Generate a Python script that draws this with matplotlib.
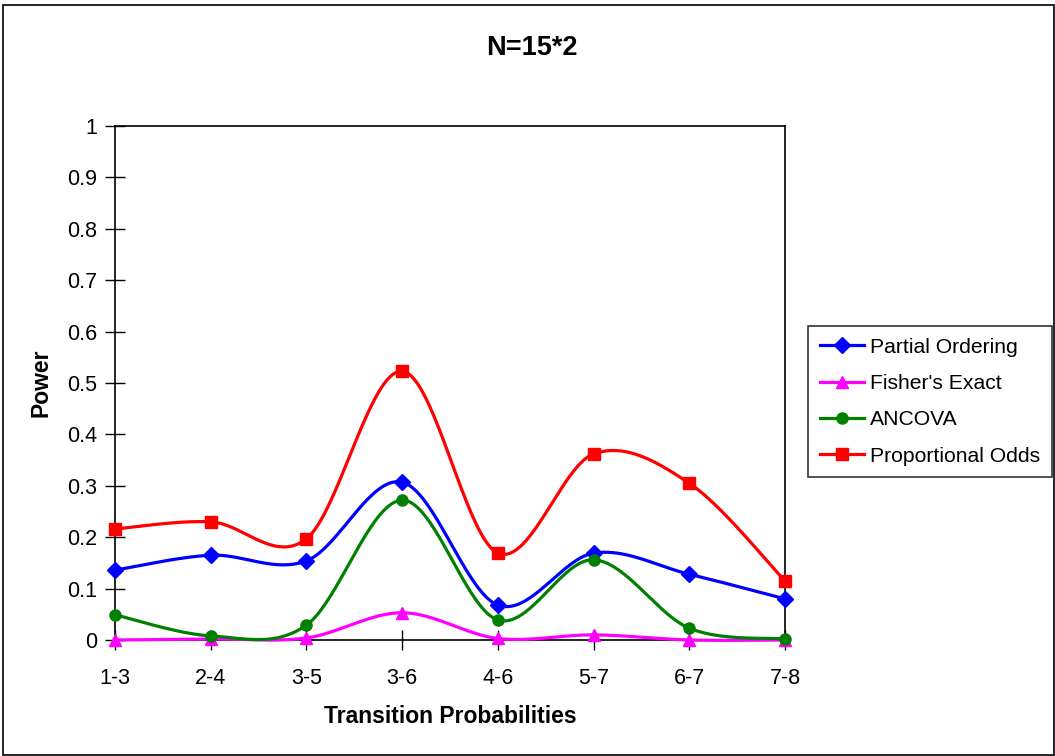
import numpy as np
import matplotlib
matplotlib.use("Agg")
import matplotlib.pyplot as plt
from matplotlib.patches import Rectangle

plt.rcParams['font.family'] = ['Liberation Sans', 'DejaVu Sans']

categories = ["1-3", "2-4", "3-5", "3-6", "4-6", "5-7", "6-7", "7-8"]
partial_ordering = [0.136, 0.165, 0.154, 0.307, 0.068, 0.169, 0.128, 0.080]
fishers_exact = [0.000, 0.002, 0.004, 0.053, 0.003, 0.010, 0.000, 0.000]
ancova = [0.049, 0.008, 0.029, 0.272, 0.039, 0.156, 0.023, 0.002]
proportional_odds = [0.216, 0.230, 0.197, 0.523, 0.169, 0.362, 0.305, 0.115]
y_ticks = [0, 0.1, 0.2, 0.3, 0.4, 0.5, 0.6, 0.7, 0.8, 0.9, 1]


def smooth(xs, ys, n=40):
    """Catmull-Rom style Bezier smoothing through every point."""
    xs = np.asarray(xs, float)
    ys = np.asarray(ys, float)
    pts = np.column_stack([xs, ys])
    out = []
    m = len(pts)
    t = np.linspace(0, 1, n)[:, None]
    for i in range(m - 1):
        p0 = pts[i - 1] if i > 0 else pts[i]
        p1 = pts[i]
        p2 = pts[i + 1]
        p3 = pts[i + 2] if i + 2 < m else pts[i + 1]
        c1 = p1 + (p2 - p0) / 6.0
        c2 = p2 - (p3 - p1) / 6.0
        seg = ((1 - t) ** 3) * p1 + 3 * ((1 - t) ** 2) * t * c1 \
            + 3 * (1 - t) * t ** 2 * c2 + t ** 3 * p2
        out.append(seg if i == 0 else seg[1:])
    out = np.vstack(out)
    return out[:, 0], out[:, 1]


fig = plt.figure(figsize=(10.55, 7.56), dpi=100)
fig.patches.append(Rectangle((0.003, 0.001), 0.996, 0.992, transform=fig.transFigure,
                             fill=False, edgecolor='black', linewidth=1.2))

ax = fig.add_axes([115 / 1055, 116 / 756, 670 / 1055, 514 / 756])
x = np.arange(len(categories))

series = [
    ("Partial Ordering", partial_ordering, "#0000FF", "D", 8),
    ("Fisher's Exact", fishers_exact, "#FF00FF", "^", 9),
    ("ANCOVA", ancova, "#008000", "o", 8),
    ("Proportional Odds", proportional_odds, "#FF0000", "s", 8),
]

for label, vals, color, marker, ms in series:
    sx, sy = smooth(x, vals)
    ax.plot(sx, sy, color=color, linewidth=2.3, clip_on=False, zorder=3)
    ax.plot(x, vals, linestyle='none', marker=marker, markersize=ms,
            color=color, clip_on=False, zorder=4)
    ax.plot([], [], color=color, linewidth=2.3, marker=marker,
            markersize=ms, label=label)

ax.set_xlim(0, len(categories) - 1)
ax.set_ylim(0, 1)
ax.set_xticks(x)
ax.set_xticklabels(categories)
ax.set_yticks(y_ticks)
ax.set_yticklabels([f"{v:g}" for v in y_ticks])
ax.tick_params(axis='both', direction='inout', length=14, width=1,
               labelsize=15.5, colors='black')
ax.tick_params(axis='x', pad=13)
ax.tick_params(axis='y', pad=6)
for sp in ax.spines.values():
    sp.set_color('black')
    sp.set_linewidth(1.2)

fig.text(532 / 1055, 1 - 48 / 756, "N=15*2", fontsize=19.5, fontweight='bold',
         ha='center', va='center')
ax.set_xlabel("Transition Probabilities", fontsize=16.5, fontweight='bold', labelpad=12)
ax.set_ylabel("Power", fontsize=16.5, fontweight='bold', labelpad=10)

leg = fig.legend(loc='upper left', bbox_to_anchor=(808 / 1055, 1 - 326 / 756),
                 fontsize=15.2, frameon=True, fancybox=False, edgecolor='black',
                 handlelength=2.1, handletextpad=0.3, labelspacing=0.82,
                 borderpad=0.55, borderaxespad=0)
leg.get_frame().set_linewidth(1.2)

fig.savefig("out.png", dpi=100)
